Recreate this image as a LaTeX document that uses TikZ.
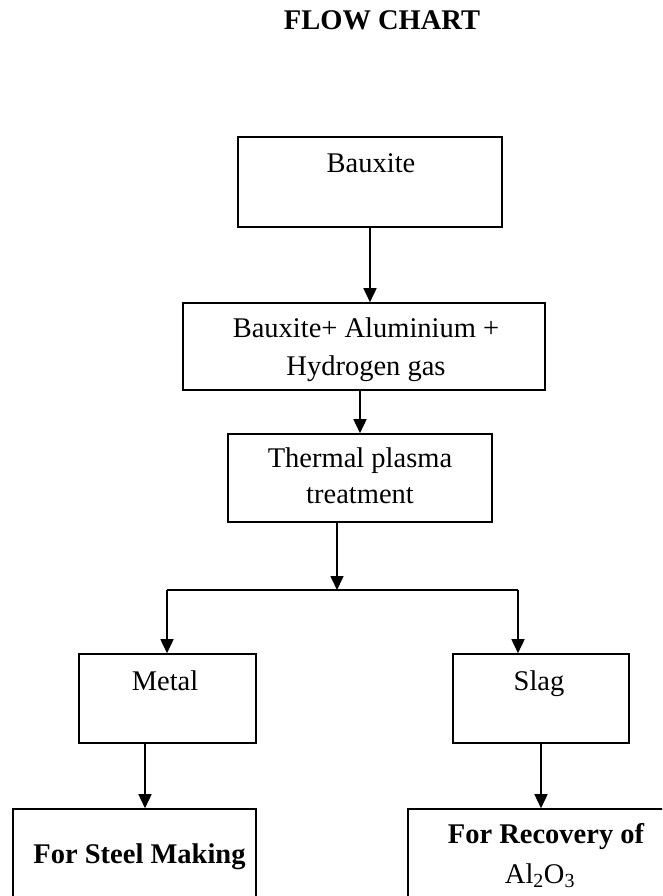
\documentclass[tikz,border=0pt]{standalone}
\usepackage{fontspec}
\setmainfont{Liberation Serif}
\usetikzlibrary{arrows.meta}
\begin{document}
\begin{tikzpicture}[x=1pt,y=-1pt,
  box/.style={draw=black,line width=1.6pt,rectangle,inner sep=0pt},
  txt/.style={anchor=base,inner sep=0pt,font=\fontsize{28.5}{37}\selectfont},
  btxt/.style={txt,font=\fontsize{28.5}{37}\selectfont\bfseries},
  conn/.style={line width=1.6pt},
  arr/.style={conn,-{Triangle[width=13pt,length=14pt]}}]
\clip (0,0) rectangle (662,896);
\useasboundingbox (0,0) rectangle (662,896);
% title
\node[btxt] (title) at (382,30) {FLOW CHART};
% boxes
\node[box,minimum width=264pt,minimum height=90pt] (b1) at (370,182) {};
\node[txt] (t1) at (371,173) {Bauxite};
\node[box,minimum width=362pt,minimum height=87pt] (b2) at (364,346.5) {};
\node[txt] (t2a) at (366,337) {Bauxite+ Aluminium +};
\node[txt] (t2b) at (366,375) {Hydrogen gas};
\node[box,minimum width=264pt,minimum height=88pt] (b3) at (360,478) {};
\node[txt] (t3a) at (360,467) {Thermal plasma};
\node[txt] (t3b) at (360,503) {treatment};
\node[box,minimum width=177pt,minimum height=89pt] (b4) at (167.5,698.5) {};
\node[txt] (t4) at (165,690) {Metal};
\node[box,minimum width=176pt,minimum height=89pt] (b5) at (541,698.5) {};
\node[txt] (t5) at (539,690) {Slag};
\node[box,minimum width=243pt,minimum height=111pt] (b6) at (134.5,864.5) {};
\node[btxt] (t6) at (139.5,863) {For Steel Making};
\node[box,minimum width=276pt,minimum height=111pt] (b7) at (546,864.5) {};
\node[btxt] (t7a) at (546,843) {For Recovery of};
\node[txt] (t7b) at (540,883) {Al\textsubscript{2}O\textsubscript{3}};
% connectors
\coordinate (j) at (337,590);
\coordinate (jl) at (167,590);
\coordinate (jr) at (518,590);
\coordinate (m1) at (145,0);
\draw[arr] (b1.south) -- (b1.south |- b2.north);
\draw[arr] (b3.north |- b2.south) -- (b3.north);
\draw[arr] (j |- b3.south) -- (j);
\draw[conn] (jl) -- (jr);
\draw[arr] (jl) -- (jl |- b4.north);
\draw[arr] (jr) -- (jr |- b5.north);
\draw[arr] (b4.south -| m1) -- (b6.north -| m1);
\draw[arr] (b5.south) -- (b5.south |- b7.north);
\end{tikzpicture}
\end{document}
